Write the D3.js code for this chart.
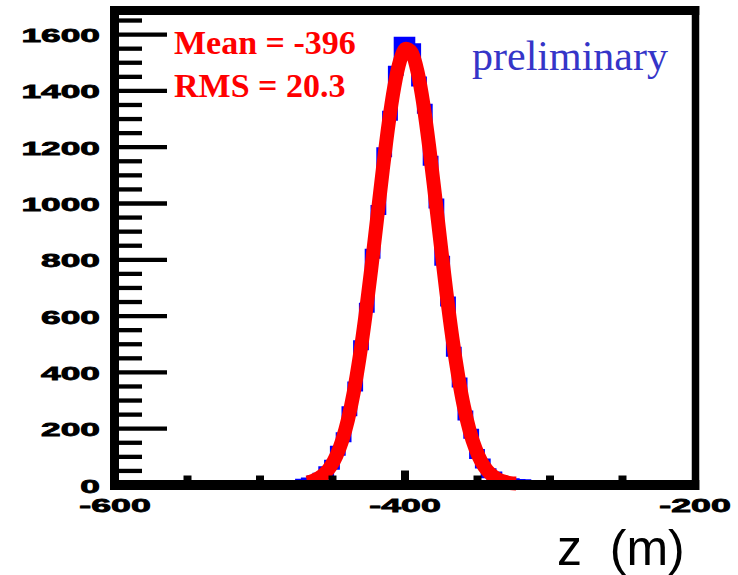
<!DOCTYPE html>
<html><head><meta charset="utf-8">
<script src="https://cdn.jsdelivr.net/npm/d3@7"></script>
<style>html,body{margin:0;padding:0;background:#fff;} svg{display:block;}</style>
</head><body>
<svg id="c" width="738" height="575"></svg>
<script>
// ---- data ----
const xDomain = [-600, -200];
const yDomain = [0, 1600];
const binWidth = 4;
const dataLowEdge = -472;            // lower edge of first listed bin
const dataCounts = [3,7,14,24,47,70,120,168,260,348,495,628,820,975,1180,1310,1470,1573,1573,1550,
                    1432,1335,1150,998,795,650,472,362,245,180,108,75,40,28,13,9,4,2,1];
const fitZ = [-467,-463,-459,-455,-451,-447,-443,-439,-435,-431,-427,-423,-419,-415,-411,-407,-403,-399,
              -395,-391,-387,-383,-379,-375,-371,-367,-363,-359,-355,-351,-347,-343,-339,-335,-331,-327,-323];
const fitVals = [7,13,23,39,64,102,156,230,328,451,597,763,940,1117,1280,1414,1507,1548,
                 1534,1466,1351,1201,1029,851,678,521,387,276,190,127,81,50,30,17,9.5,5,3.6];
const xMajor = [-600, -400, -200];
const xMinor = [-550, -500, -450, -350, -300, -250];
const yMajor = [0, 200, 400, 600, 800, 1000, 1200, 1400, 1600];
const yMinor = d3.range(50, 1651, 50).filter(v => v % 200 !== 0);
const statLines = ["Mean = -396", "RMS = 20.3"];
const tagText = "preliminary";
const xTitle = "z  (m)";

// ---- scales ----
const svg = d3.select("#c");
const x = d3.scaleLinear().domain(xDomain).range([114.5, 694.5]);
const y = d3.scaleLinear().domain(yDomain).range([484.5, 34.1]);

// ---- blue data histogram (steps) ----
const pts = [[dataLowEdge, 0]];
dataCounts.forEach((c, i) => {
  const x0 = dataLowEdge + i * binWidth;
  pts.push([x0, c], [x0 + binWidth, c]);
});
pts.push([dataLowEdge + dataCounts.length * binWidth, 0]);
svg.append("path")
  .attr("d", d3.line().x(d => x(d[0])).y(d => y(d[1]))(pts))
  .attr("fill", "none").attr("stroke", "#0000ff")
  .attr("stroke-width", 10).attr("stroke-linejoin", "miter");

// ---- red fit curve ----
svg.append("path")
  .attr("d", d3.line().curve(d3.curveMonotoneX).x((d, i) => x(fitZ[i])).y(d => y(d))(fitVals))
  .attr("fill", "none").attr("stroke", "#ff0000")
  .attr("stroke-width", 14).attr("stroke-linejoin", "miter");

// ---- y ticks ----
const yMinAx = svg.append("g").attr("transform", "translate(119,0)")
  .call(d3.axisRight(y).tickValues(yMinor).tickSize(23).tickFormat(""));
const yMajAx = svg.append("g").attr("transform", "translate(119,0)")
  .call(d3.axisRight(y).tickValues(yMajor.filter(v => v > 0)).tickSize(48).tickFormat(""));
[yMinAx, yMajAx].forEach(g => {
  g.select(".domain").remove();
  g.selectAll("line").attr("stroke", "#000").attr("stroke-width", 4.3);
});

// ---- x ticks ----
const xMinAx = svg.append("g").attr("transform", "translate(0,480.5)")
  .call(d3.axisTop(x).tickValues(xMinor).tickSize(5).tickFormat(""));
const xMajAx = svg.append("g").attr("transform", "translate(0,480.5)")
  .call(d3.axisTop(x).tickValues([-400]).tickSize(10).tickFormat(""));
[xMinAx, xMajAx].forEach(g => {
  g.select(".domain").remove();
  g.selectAll("line").attr("stroke", "#000").attr("stroke-width", 8);
});

// ---- frame ----
const frame = svg.append("g").attr("stroke", "#000").attr("fill", "none");
frame.append("line").attr("x1", 114.5).attr("x2", 114.5).attr("y1", 6).attr("y2", 490).attr("stroke-width", 9);
frame.append("line").attr("x1", 695.5).attr("x2", 695.5).attr("y1", 6).attr("y2", 490).attr("stroke-width", 7.5);
frame.append("line").attr("x1", 110).attr("x2", 699.3).attr("y1", 10.5).attr("y2", 10.5).attr("stroke-width", 9);
frame.append("line").attr("x1", 110).attr("x2", 699.3).attr("y1", 485).attr("y2", 485).attr("stroke-width", 10);

// ---- tick labels ----
const fmt = d => (d < 0 ? "-" + Math.abs(d) : String(d));
const labelStyle = sel => sel
  .style("font-family", "'Liberation Sans', Arial, sans-serif").style("font-weight", "bold")
  .style("font-size", "19px").attr("fill", "#000")
  .attr("stroke", "#000").attr("stroke-width", 0.8);
const yLab = svg.append("g").attr("transform", "translate(100,0)")
  .call(d3.axisLeft(y).tickValues(yMajor).tickSize(0).tickPadding(0).tickFormat(fmt));
yLab.select(".domain").remove();
yLab.selectAll("text").attr("x", 0).attr("dy", null).attr("y", 7.5)
  .attr("transform", "scale(1.86,1)").call(labelStyle);

const xLab = svg.append("g").attr("transform", "translate(0,0)")
  .call(d3.axisBottom(x).tickValues(xMajor).tickSize(0).tickPadding(0).tickFormat(fmt));
xLab.select(".domain").remove();
xLab.selectAll("text").attr("dy", null).attr("y", 512)
  .attr("transform", "scale(1.88,1)").call(labelStyle);

// ---- texts ----
svg.selectAll("text.stat").data(statLines).enter().append("text").attr("class", "stat")
  .attr("x", 174).attr("y", (d, i) => 54 + i * 43)
  .style("font-family", "'Liberation Serif', 'Times New Roman', serif").style("font-weight", "bold")
  .style("font-size", "34px").attr("fill", "#ff0000").text(d => d);

svg.append("text").attr("x", 472).attr("y", 70)
  .style("font-family", "'Liberation Serif', 'Times New Roman', serif")
  .style("font-size", "42px").attr("fill", "#3535c8").text(tagText);

svg.append("text").attr("x", 557).attr("y", 565).attr("xml:space", "preserve")
  .style("white-space", "pre")
  .style("font-family", "'Liberation Sans', Arial, sans-serif")
  .style("font-size", "50px").attr("fill", "#000").text(xTitle);
</script>
</body></html>
